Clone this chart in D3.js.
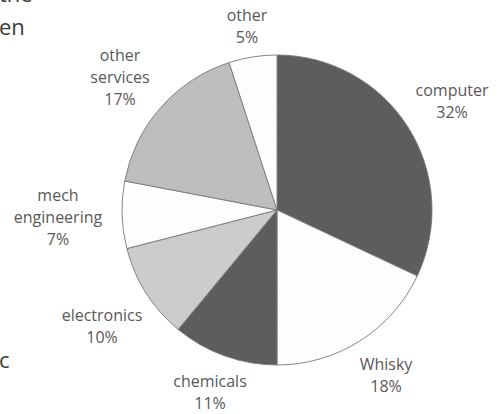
<!DOCTYPE html>
<html>
<head>
<meta charset="utf-8">
<script src="https://cdn.jsdelivr.net/npm/d3@7"></script>
<style>
html,body{margin:0;padding:0;background:#fff;}
svg{display:block;}
text{font-family:"Open Sans","Noto Sans",sans-serif;fill:#5a5858;}
</style>
</head>
<body>
<svg id="chart" width="501" height="414"></svg>
<script>
const categories = ["computer", "Whisky", "chemicals", "electronics", "mech engineering", "other services", "other"];
const values = [32, 18, 11, 10, 7, 17, 5];
const fills = ["#5f5e5d", "#fdfdfc", "#5f5e5d", "#d0cecd", "#fdfdfc", "#c2c0bf", "#fdfdfc"];
const labelLines = [["computer", "32%"], ["Whisky", "18%"], ["chemicals", "11%"], ["electronics", "10%"], ["mech", "engineering", "7%"], ["other", "services", "17%"], ["other", "5%"]];
const labelPos = [[452, 90], [386, 364], [210, 381], [102, 315], [58, 195], [120, 55], [247, 15]];
const pageText = [["the", 0, -6], ["en", 0, 27], ["c", 0, 360]];

const svg = d3.select("#chart");
const cx = 277, cy = 210, r = 155;

const data = categories.map((c, i) => ({name: c, value: values[i], fill: fills[i], lines: labelLines[i], pos: labelPos[i]}));
const pie = d3.pie().value(d => d.value).sort(null);
const arc = d3.arc().innerRadius(0).outerRadius(r);

// subtle diagonal hatch texture
const defs = svg.append("defs");
data.forEach((d, i) => {
  const p = defs.append("pattern").attr("id", "p" + i).attr("patternUnits", "userSpaceOnUse")
    .attr("width", 3).attr("height", 3).attr("patternTransform", "rotate(35)");
  p.append("rect").attr("width", 3).attr("height", 3).attr("fill", d.fill);
  if (d.fill !== "#fdfdfc") {
    p.append("line").attr("x1", 0).attr("y1", 0).attr("x2", 0).attr("y2", 3)
      .attr("stroke", d3.color(d.fill).darker(0.2)).attr("stroke-width", 1);
  }
});

const g = svg.append("g").attr("transform", `translate(${cx},${cy})`);
g.selectAll("path").data(pie(data)).enter().append("path")
  .attr("d", arc)
  .attr("fill", (d, i) => `url(#p${i})`)
  .attr("stroke", "#7a7877")
  .attr("stroke-width", 0.9);

const lg = svg.append("g");
data.forEach(d => {
  const t = lg.append("text").attr("text-anchor", "middle").attr("font-size", 16);
  d.lines.forEach((l, k) => {
    t.append("tspan").attr("x", d.pos[0]).attr("y", d.pos[1] + k * 22).attr("dy", "0.35em").text(l);
  });
});

pageText.forEach(p => {
  svg.append("text").attr("x", p[1] - 1).attr("y", p[2]).attr("dy", "0.35em")
    .attr("font-size", 22).style("fill", "#3a3a3a").text(p[0]);
});
</script>
</body>
</html>
